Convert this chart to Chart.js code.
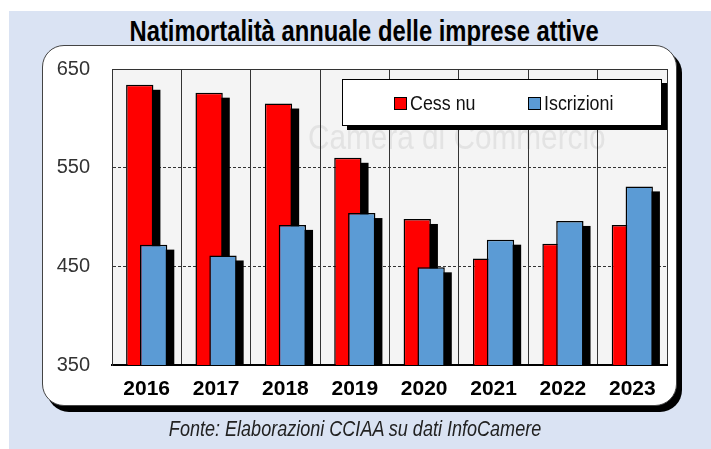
<!DOCTYPE html>
<html>
<head>
<meta charset="utf-8">
<script src="https://cdn.jsdelivr.net/npm/chart.js"></script>
<style>
  html, body { margin: 0; padding: 0; background: #fff; }
  #page { position: relative; width: 711px; height: 449px; overflow: hidden; }
  #bg { position: absolute; left: 9px; top: 11px; right: 0; bottom: 0; background: #dae3f3; }
  .narrow { display: inline-block; transform-origin: center; white-space: nowrap; }
  #title {
    position: absolute; left: 17px; right: 0; top: 15px; text-align: center; line-height: 29px;
    font: bold 29px "Liberation Sans", Arial, sans-serif; color: #000;
  }
  #title .narrow { transform: scaleX(0.82); }
  #panel {
    position: absolute; left: 42px; top: 45px; width: 633px; height: 359px;
    background: #fff; border: 1.5px solid #444; border-radius: 22px;
    box-shadow: 5px 6px 0 #000;
  }
  #chart { position: absolute; left: 0; top: 0; }
  #legend {
    position: absolute; left: 342px; top: 79px; width: 318px; height: 45px;
    background: #fff; border: 1.5px solid #000; box-shadow: 5px 4px 0 #000;
    font: 21px "Liberation Sans", Arial, sans-serif; color: #111;
  }
  .item { position: absolute; top: 11px; display: flex; align-items: center; }
  .box { width: 11px; height: 11px; border: 1.5px solid #000; margin-right: 3px; }
  .item span { display: inline-block; transform: scaleX(0.85); transform-origin: left center; }
  #footer {
    position: absolute; left: 0; right: 0; top: 416px; text-align: center;
    font: italic 22px "Liberation Sans", Arial, sans-serif; color: #222;
  }
  #footer .narrow { transform: scaleX(0.82); }
</style>
</head>
<body>
<div id="page">
  <div id="bg"></div>
  <div id="title"><span class="narrow">Natimortalità annuale delle imprese attive</span></div>
  <div id="panel"></div>
  <canvas id="chart" width="711" height="449"></canvas>
  <div id="legend"></div>
  <div id="footer"><span class="narrow">Fonte: Elaborazioni CCIAA su dati InfoCamere</span></div>
</div>
<script>
const years = ['2016', '2017', '2018', '2019', '2020', '2021', '2022', '2023'];
const cessazioni = [634, 626, 615, 560, 498, 458, 473, 492];
const iscrizioni = [472, 461, 492, 504, 449, 477, 496, 531];
const seriesNames = ['Cess nu', 'Iscrizioni'];
const seriesColors = ['#ff0000', '#5b9bd5'];
const yMin = 350, yMax = 650, yStep = 100;
const watermark = 'Camera di Commercio';

// plot background, faint watermark, solid top frame
const plotFrame = {
    id: 'plotFrame',
    beforeDraw(chart) {
        const a = chart.chartArea, ctx = chart.ctx;
        ctx.save();
        ctx.fillStyle = '#f4f4f4';
        ctx.fillRect(a.left, a.top, a.right - a.left, a.bottom - a.top);
        // watermark text, squeezed horizontally
        ctx.translate(a.left + 196, a.top + 80);
        ctx.scale(0.85, 1);
        ctx.font = '35px "Liberation Sans", Arial, sans-serif';
        ctx.fillStyle = '#e3e3e3';
        ctx.textBaseline = 'alphabetic';
        ctx.fillText(watermark, 0, 0);
        ctx.restore();
    },
    afterDraw(chart) {
        const a = chart.chartArea, ctx = chart.ctx;
        ctx.save();
        ctx.strokeStyle = '#333';
        ctx.lineWidth = 1;
        ctx.beginPath();
        ctx.moveTo(a.left, a.top + 0.5);
        ctx.lineTo(a.right, a.top + 0.5);
        ctx.stroke();
        ctx.restore();
    }
};

// red first then blue, each bar with a hard black drop shadow under it
const shadowBars = {
    id: 'shadowBars',
    beforeDatasetsDraw(chart) {
        const a = chart.chartArea, ctx = chart.ctx;
        [0, 1].forEach(i => {
            const meta = chart.getDatasetMeta(i);
            ctx.save();
            ctx.beginPath();
            ctx.rect(a.left, a.top, a.right - a.left, a.bottom - a.top);
            ctx.clip();
            ctx.fillStyle = '#000';
            meta.data.forEach(bar => {
                const p = bar.getProps(['x', 'y', 'base', 'width'], true);
                const top = Math.min(p.y, p.base);
                ctx.fillRect(p.x - p.width / 2 + 7, top + 5, p.width, Math.abs(p.base - p.y));
            });
            meta.controller.draw();
            ctx.restore();
        });
        return false;
    }
};

const tickFont = '"Liberation Sans", Arial, sans-serif';

const chart = new Chart(document.getElementById('chart'), {
    type: 'bar',
    data: {
        labels: years,
        datasets: [
            {
                label: seriesNames[0],
                data: cessazioni,
                backgroundColor: seriesColors[0],
                borderColor: '#000',
                borderWidth: 1.5,
                categoryPercentage: 0.4,
                barPercentage: 1.97
            },
            {
                label: seriesNames[1],
                data: iscrizioni,
                backgroundColor: seriesColors[1],
                borderColor: '#000',
                borderWidth: 1.5,
                categoryPercentage: 0.4,
                barPercentage: 1.97
            }
        ]
    },
    options: {
        responsive: false,
        animation: false,
        events: [],
        layout: { padding: { left: 0, top: 69, right: 44, bottom: 0 } },
        scales: {
            x: {
                afterFit(scale) { scale.height = 84; },
                grid: { offset: true, color: '#333', lineWidth: 1, drawTicks: false },
                border: { color: '#000', width: 2 },
                ticks: {
                    color: '#000',
                    padding: 12,
                    font: { family: tickFont, size: 21, weight: 'bold' }
                }
            },
            y: {
                min: yMin,
                max: yMax,
                afterFit(scale) { scale.width = 112; },
                grid: { color: '#333', lineWidth: 1, drawTicks: false },
                border: { color: '#333', width: 1, dash: [3, 2] },
                ticks: {
                    stepSize: yStep,
                    color: '#333',
                    padding: 22,
                    font: { family: tickFont, size: 20 }
                }
            }
        },
        plugins: {
            legend: { display: false },
            tooltip: { enabled: false }
        }
    },
    plugins: [plotFrame, shadowBars]
});

// custom legend box inside the plot
const legendEl = document.getElementById('legend');
const itemLeft = [51, 185];
chart.data.datasets.forEach((ds, i) => {
    const item = document.createElement('div');
    item.className = 'item';
    item.style.left = itemLeft[i] + 'px';
    const box = document.createElement('div');
    box.className = 'box';
    box.style.background = ds.backgroundColor;
    const txt = document.createElement('span');
    txt.textContent = ds.label;
    item.appendChild(box);
    item.appendChild(txt);
    legendEl.appendChild(item);
});
</script>
</body>
</html>
